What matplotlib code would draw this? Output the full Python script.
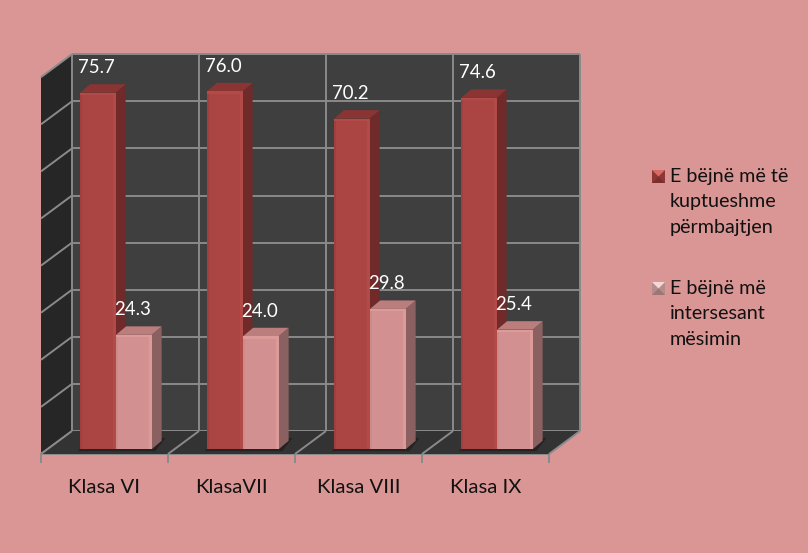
import matplotlib
matplotlib.use('Agg')
import matplotlib.pyplot as plt
from matplotlib.patches import Polygon, Rectangle

plt.rcParams['font.family'] = ['Lato', 'DejaVu Sans']

categories = ['Klasa VI', 'KlasaVII', 'Klasa VIII', 'Klasa IX']
kuptueshme = [75.7, 76.0, 70.2, 74.6]
intersesant = [24.3, 24.0, 29.8, 25.4]
legend_labels = ['E bëjnë më të\nkuptueshme\npërmbajtjen', 'E bëjnë më\nintersesant\nmësimin']
y_ticks = [0, 10, 20, 30, 40, 50, 60, 70, 80]

BG = '#D99694'
GRID = '#8A8A8A'
WALL = '#3F3F3F'
SIDE = '#262626'

# depth of the fake 3d box and of the bars, in data units
DX, DY = 0.244, 4.88
BAR_DX, BAR_DY = 0.079, 1.8
BAR_W = 0.28
BAR_Y0 = 1.0

fig = plt.figure(figsize=(8.08, 5.53), dpi=100, facecolor=BG)
ax = fig.add_axes([41 / 808, 99 / 553, 508 / 808, 376.8 / 553])
ax.set_xlim(0, 4)
ax.set_ylim(0, 80)
ax.patch.set_visible(False)
for s in ['top', 'left', 'right']:
    ax.spines[s].set_visible(False)
ax.spines['bottom'].set_color(GRID)
ax.spines['bottom'].set_linewidth(1.4)
ax.set_yticks([])
ax.set_xticks(range(5))
ax.set_xticklabels([])
ax.set_xticks([i + 0.5 for i in range(4)], minor=True)
ax.set_xticklabels(categories, minor=True, fontsize=14.6, color='#111111')
ax.tick_params(axis='x', which='major', length=6.5, width=1.4, color=GRID)
ax.tick_params(axis='x', which='minor', length=0, pad=18.2)


def poly(points, color, z):
    ax.add_patch(Polygon(points, closed=True, facecolor=color, edgecolor='none', zorder=z, clip_on=False))


def line(xs, ys, z=2):
    ax.plot(xs, ys, color=GRID, lw=1.4, zorder=z, clip_on=False, solid_capstyle='butt')


# walls and floor
poly([(DX, DY), (4 + DX, DY), (4 + DX, 80 + DY), (DX, 80 + DY)], WALL, 1)
poly([(0, 0), (DX, DY), (DX, 80 + DY), (0, 80)], SIDE, 1)
poly([(0, 0), (4, 0), (4 + DX, DY), (DX, DY)], '#333333', 3)
for v in y_ticks:
    line([DX, 4 + DX], [v + DY, v + DY])
    line([0, DX], [v, v + DY])
for i in range(5):
    line([i + DX, i + DX], [DY, 80 + DY])
    line([i, i + DX], [0, DY], 4)


def draw_bar(x, v, front, side, top, dark, light, label):
    y0 = BAR_Y0
    y1 = y0 + v
    poly([(x + BAR_W, y0), (x + BAR_W + BAR_DX, y0 + BAR_DY), (x + BAR_W + BAR_DX, y1 + BAR_DY), (x + BAR_W, y1)], side, 6)
    poly([(x, y1), (x + BAR_W, y1), (x + BAR_W + BAR_DX, y1 + BAR_DY), (x + BAR_DX, y1 + BAR_DY)], top, 6)
    ax.add_patch(Rectangle((x, y0), BAR_W, v, facecolor=front, edgecolor='none', zorder=6, clip_on=False))
    # bevel strips on the front face
    ax.add_patch(Rectangle((x, y0), 0.012, v, facecolor=dark, edgecolor='none', zorder=7, clip_on=False))
    ax.add_patch(Rectangle((x + BAR_W - 0.02, y0), 0.02, v, facecolor=light, edgecolor='none', zorder=7, clip_on=False))
    ax.add_patch(Rectangle((x, y1 - 0.5), BAR_W, 0.5, facecolor=light, edgecolor='none', zorder=7, clip_on=False))
    ax.annotate(label, (x + BAR_W / 2, y1), xytext=(-1.2, 18), textcoords='offset points', ha='center', va='center',
                color='white', fontsize=13.4, zorder=10, annotation_clip=False)


for i in range(4):
    # floor shadow below each pair
    poly([(i + 0.29, 0.6), (i + 0.9, 0.6), (i + 0.98, 3.4), (i + 0.38, 3.4)], '#232323', 4)
    draw_bar(i + 0.307, kuptueshme[i], '#AB4543', '#6F2A29', '#8A3533', '#A03F3D', '#B24A47', f'{kuptueshme[i]:.1f}')
    draw_bar(i + 0.591, intersesant[i], '#D29190', '#8A6060', '#BC7E7D', '#CC8A89', '#DC9A99', f'{intersesant[i]:.1f}')


def fig_poly(points, color):
    pts = [(px / 808, 1 - py / 553) for px, py in points]
    fig.add_artist(Polygon(pts, closed=True, facecolor=color, edgecolor='none', transform=fig.transFigure))


# legend
swatches = [('#AB4543', '#D86A68', '#7A2F2E', '#8E3836'), ('#C89B9A', '#F4D6D5', '#9C7675', '#B58C8B')]
legend_y = [170, 282]
for k in range(2):
    y = legend_y[k]
    mid, up, down, sd = swatches[k]
    fig_poly([(652, y), (665, y), (665, y + 13), (652, y + 13)], sd)
    fig_poly([(652, y), (665, y), (658.5, y + 6.5)], up)
    fig_poly([(652, y + 13), (665, y + 13), (658.5, y + 6.5)], down)
    fig.text(670 / 808, 1 - (y - 2) / 553, legend_labels[k], fontsize=14.2, color='#111111', va='top', ha='left', linespacing=1.6)

fig.savefig('out.png', dpi=100, facecolor=BG)
